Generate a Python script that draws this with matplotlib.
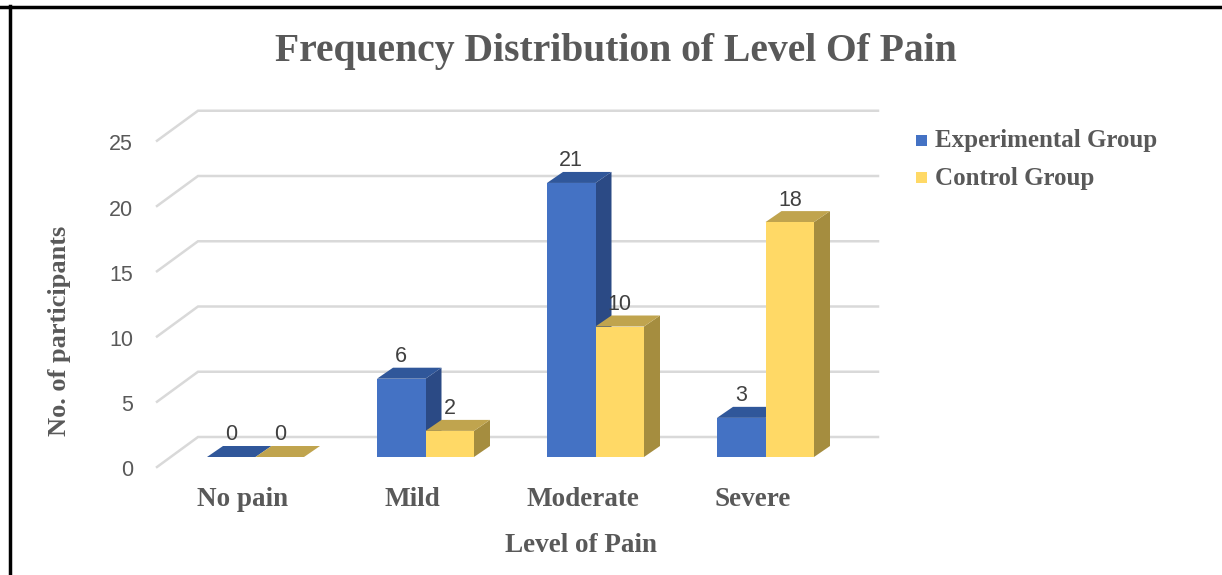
import matplotlib
matplotlib.use("Agg")
import matplotlib.pyplot as plt
from matplotlib.patches import Polygon
from matplotlib.lines import Line2D

# datos del grafico
categorias = ["No pain", "Mild", "Moderate", "Severe"]
grupo_experimental = [0, 6, 21, 3]
grupo_control = [0, 2, 10, 18]
series = ["Experimental Group", "Control Group"]
ticks_y = [0, 5, 10, 15, 20, 25]

# colores (frente, tapa, lateral)
COLORES = [
    ("#4472C4", "#30579A", "#2B4A85"),
    ("#FFD966", "#C0A44E", "#A58D3F"),
]
GRIS_TXT = "#595959"
GRIS_GRID = "#D9D9D9"

W, H = 1222, 575
PX_X = 170.0   # pixeles por categoria
PX_Y = 13.05   # pixeles por unidad
ORIG_X, ORIG_Y = 255.5, 457.0  # pixel del centro del grupo 0 y base de barras

fig = plt.figure(figsize=(W / 100, H / 100), dpi=100)
ax = fig.add_axes([0, 0, 1, 1])
xmin = -ORIG_X / PX_X
ymin = -(H - ORIG_Y) / PX_Y
ax.set_xlim(xmin, xmin + W / PX_X)
ax.set_ylim(ymin, ymin + H / PX_Y)
ax.axis("off")


def px(dx, dy):
    """convierte un desplazamiento en pixeles a unidades de datos"""
    return dx / PX_X, -dy / PX_Y


# lineas de la cuadricula (piso inclinado + pared del fondo)
fx, fy = px(157 - ORIG_X, 10)
bx, by = px(198 - ORIG_X, -20)
ex, _ = px(878 - ORIG_X, 0)
for v in ticks_y:
    ax.plot([fx, bx, ex], [v + fy, v + by, v + by], color=GRIS_GRID, lw=1.8,
            solid_joinstyle="miter", zorder=1)
    ax.annotate(str(v), (fx, v + fy), xytext=(-24, -4), textcoords="offset pixels",
                ha="right", va="center", fontsize=15.5, color=GRIS_TXT,
                family="Liberation Sans")

# barras en pseudo 3D
ancho, _ = px(48.5, 0)
prof_x, prof_y = px(16, -11)
for i in range(len(categorias)):
    for j, valores in enumerate([grupo_experimental, grupo_control]):
        v = valores[i]
        x0 = i - ancho + j * ancho
        x1 = x0 + ancho
        frente, tapa, lateral = COLORES[j]
        z = 2 + i + j * 0.1
        ax.add_patch(Polygon([(x1, 0), (x1 + prof_x, prof_y), (x1 + prof_x, v + prof_y), (x1, v)],
                             closed=True, fc=lateral, ec="none", zorder=z))
        ax.add_patch(Polygon([(x0, v), (x1, v), (x1 + prof_x, v + prof_y), (x0 + prof_x, v + prof_y)],
                             closed=True, fc=tapa, ec="none", zorder=z))
        ax.add_patch(Polygon([(x0, 0), (x1, 0), (x1, v), (x0, v)],
                             closed=True, fc=frente, ec="none", zorder=z))
        ax.annotate(str(v), ((x0 + x1) / 2, v), xytext=(0, 22), textcoords="offset pixels",
                    ha="center", va="center", fontsize=15.5, color="#404040",
                    family="Liberation Sans", zorder=10)
    ax.annotate(categorias[i], (i, 0), xytext=(-13, -42), textcoords="offset pixels",
                ha="center", va="center", fontsize=19.5, fontweight="bold",
                color=GRIS_TXT, family="Liberation Serif")

# titulo y ejes
fig.text(616 / W, 1 - 52 / H, "Frequency Distribution of Level Of Pain",
         ha="center", va="center", fontsize=28.5, fontweight="bold",
         color=GRIS_TXT, family="Liberation Serif")
fig.text(581 / W, 1 - 546 / H, "Level of Pain", ha="center", va="center",
         fontsize=19.5, fontweight="bold", color=GRIS_TXT, family="Liberation Serif")
fig.text(60 / W, 1 - 331 / H, "No. of participants", ha="center", va="center",
         rotation=90, fontsize=19, fontweight="bold", color=GRIS_TXT,
         family="Liberation Serif")

# leyenda
for k, nombre in enumerate(series):
    yk = 1 - (141 + 37 * k) / H
    fig.patches.append(plt.Rectangle((916 / W, yk - 5 / H), 11 / W, 11 / H,
                                     transform=fig.transFigure, fc=COLORES[k][0],
                                     ec="none"))
    fig.text(935 / W, yk, nombre, ha="left", va="center", fontsize=18,
             fontweight="bold", color=GRIS_TXT, family="Liberation Serif")

# marco negro
fig.add_artist(Line2D([0, 1], [1 - 7 / H, 1 - 7 / H], color="black", lw=2.5))
fig.add_artist(Line2D([9.5 / W, 9.5 / W], [0, 1 - 6 / H], color="black", lw=2.5))

fig.savefig("out.png", dpi=100)
